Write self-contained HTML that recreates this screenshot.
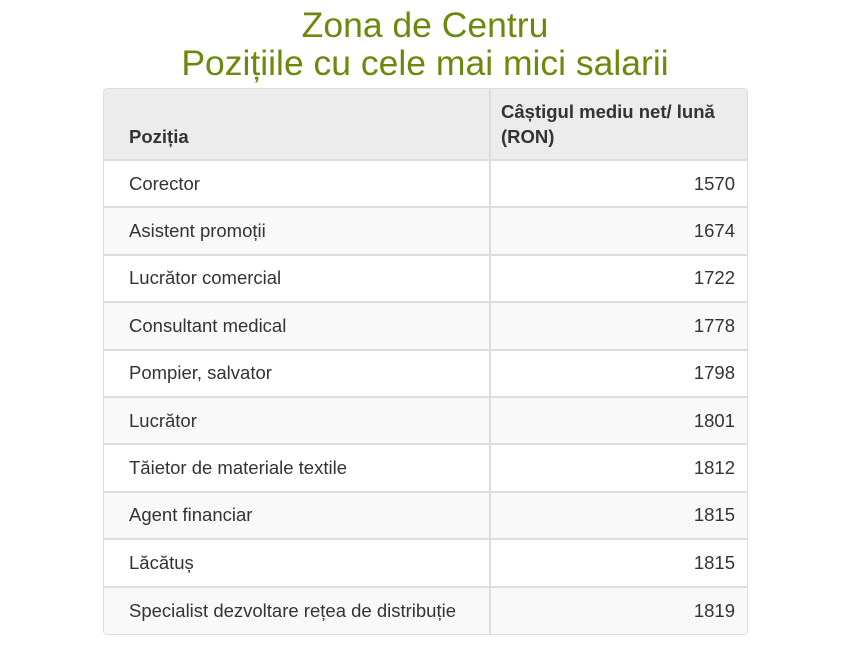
<!DOCTYPE html>
<html><head><meta charset="utf-8"><style>
html,body{margin:0;padding:0;background:#fff;width:854px;height:648px;overflow:hidden;font-family:"Liberation Sans",sans-serif;}
.t{position:absolute;left:0;width:850px;text-align:center;color:#6b8a0c;font-size:35.5px;line-height:38px;top:6px;}
.tb{position:absolute;left:103px;top:88px;width:643px;border:1px solid #ddd;border-radius:4px;overflow:hidden;}
table{border-collapse:collapse;width:100%;font-size:18.5px;color:#333;table-layout:fixed;}
td,th{box-sizing:border-box;height:47.4px;padding:0 12px 0 25px;border-top:2px solid #ddd;white-space:nowrap;}
td+td,th+th{border-left:2px solid #ddd;text-align:right;padding-right:12px;padding-left:10px;}
th{background:#ececec;text-align:left;font-weight:bold;height:71px;border-top:none;vertical-align:bottom;padding-bottom:10px;line-height:25px;}
th+th{text-align:left;vertical-align:top;padding-top:10px;padding-bottom:0;white-space:normal;}
tr:nth-child(odd) td{background:#f9f9f9;}
</style></head><body>
<div class="t">Zona de Centru<br>Pozițiile cu cele mai mici salarii</div>
<div class="tb"><table>
<colgroup><col style="width:386px"><col></colgroup>
<tr><th>Poziția</th><th>Câștigul mediu net/ lună (RON)</th></tr>
<tr><td>Corector</td><td>1570</td></tr>
<tr><td>Asistent promoții</td><td>1674</td></tr>
<tr><td>Lucrător comercial</td><td>1722</td></tr>
<tr><td>Consultant medical</td><td>1778</td></tr>
<tr><td>Pompier, salvator</td><td>1798</td></tr>
<tr><td>Lucrător</td><td>1801</td></tr>
<tr><td>Tăietor de materiale textile</td><td>1812</td></tr>
<tr><td>Agent financiar</td><td>1815</td></tr>
<tr><td>Lăcătuș</td><td>1815</td></tr>
<tr><td>Specialist dezvoltare rețea de distribuție</td><td>1819</td></tr>
</table></div>
</body></html>
